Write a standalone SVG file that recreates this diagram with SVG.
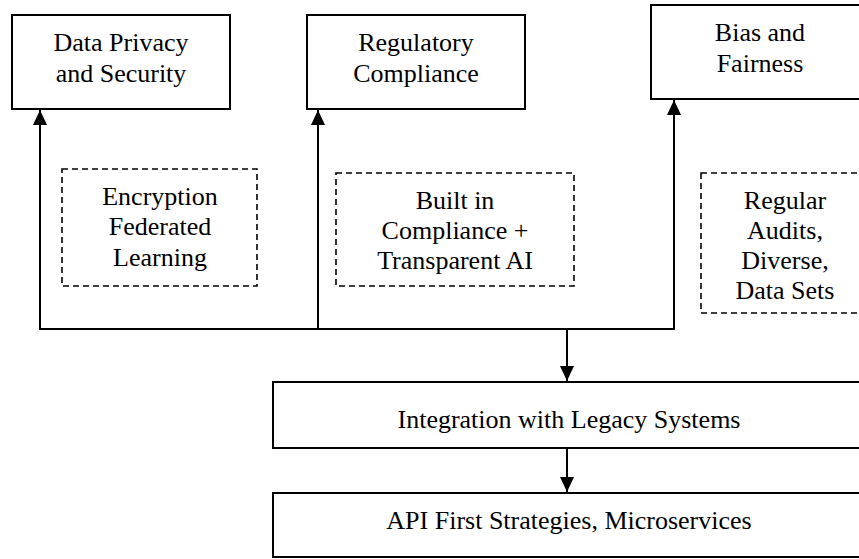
<svg xmlns="http://www.w3.org/2000/svg" width="859" height="559" viewBox="0 0 859 559">
<style>
  .box { fill: #ffffff; stroke: #000000; stroke-width: 2; }
  .dash { fill: none; stroke: #000000; stroke-width: 1.6; stroke-dasharray: 6 4; }
  text { font-family: 'Liberation Serif', 'Times New Roman', Times, 'DejaVu Serif', serif; font-size: 26px; fill: #000000; text-anchor: middle; }
  .conn { fill: none; stroke: #000000; stroke-width: 2; stroke-linecap: square; }
</style>
<defs>
  <marker id="arrow" markerUnits="userSpaceOnUse" markerWidth="16" markerHeight="14" refX="15" refY="7" orient="auto">
    <path d="M0,0 L15,7 L0,14 Z" fill="#000000"/>
  </marker>
</defs>
<rect width="859" height="559" fill="#ffffff"/>

<g id="node-data-privacy" font-family="Liberation Serif, serif">
  <rect class="box" x="12" y="15" width="218" height="94"/>
  <text x="121" y="51">Data Privacy</text>
  <text x="121" y="82">and Security</text>
</g>

<g id="node-regulatory" font-family="Liberation Serif, serif">
  <rect class="box" x="307" y="15" width="218" height="94"/>
  <text x="416" y="51">Regulatory</text>
  <text x="416" y="82">Compliance</text>
</g>

<g id="node-bias" font-family="Liberation Serif, serif">
  <rect class="box" x="651" y="5" width="218" height="94"/>
  <text x="760" y="41">Bias and</text>
  <text x="760" y="72">Fairness</text>
</g>

<g id="note-encryption" font-family="Liberation Serif, serif">
  <rect class="dash" x="62" y="169" width="195" height="117"/>
  <text x="160" y="205">Encryption</text>
  <text x="160" y="235">Federated</text>
  <text x="160" y="266">Learning</text>
</g>

<g id="note-compliance" font-family="Liberation Serif, serif">
  <rect class="dash" x="336" y="173" width="238" height="113"/>
  <text x="455" y="209">Built in</text>
  <text x="455" y="239">Compliance +</text>
  <text x="455" y="269">Transparent AI</text>
</g>

<g id="note-audits" font-family="Liberation Serif, serif">
  <rect class="dash" x="701" y="173" width="168" height="140"/>
  <text x="785" y="209">Regular</text>
  <text x="785" y="239">Audits,</text>
  <text x="785" y="269">Diverse,</text>
  <text x="785" y="299">Data Sets</text>
</g>

<g id="node-integration" font-family="Liberation Serif, serif">
  <rect class="box" x="273" y="382" width="594" height="66"/>
  <text x="569" y="428">Integration with Legacy Systems</text>
</g>

<g id="node-api" font-family="Liberation Serif, serif">
  <rect class="box" x="273" y="493" width="594" height="64"/>
  <text x="569" y="529">API First Strategies, Microservices</text>
</g>

<g id="connectors">
  <path class="conn" d="M40,329 H674"/>
  <path class="conn" d="M40,329 V110" marker-end="url(#arrow)"/>
  <path class="conn" d="M318,329 V110" marker-end="url(#arrow)"/>
  <path class="conn" d="M674,329 V100" marker-end="url(#arrow)"/>
  <path class="conn" d="M567,329 V381" marker-end="url(#arrow)"/>
  <path class="conn" d="M567,448 V492" marker-end="url(#arrow)"/>
</g>
</svg>
